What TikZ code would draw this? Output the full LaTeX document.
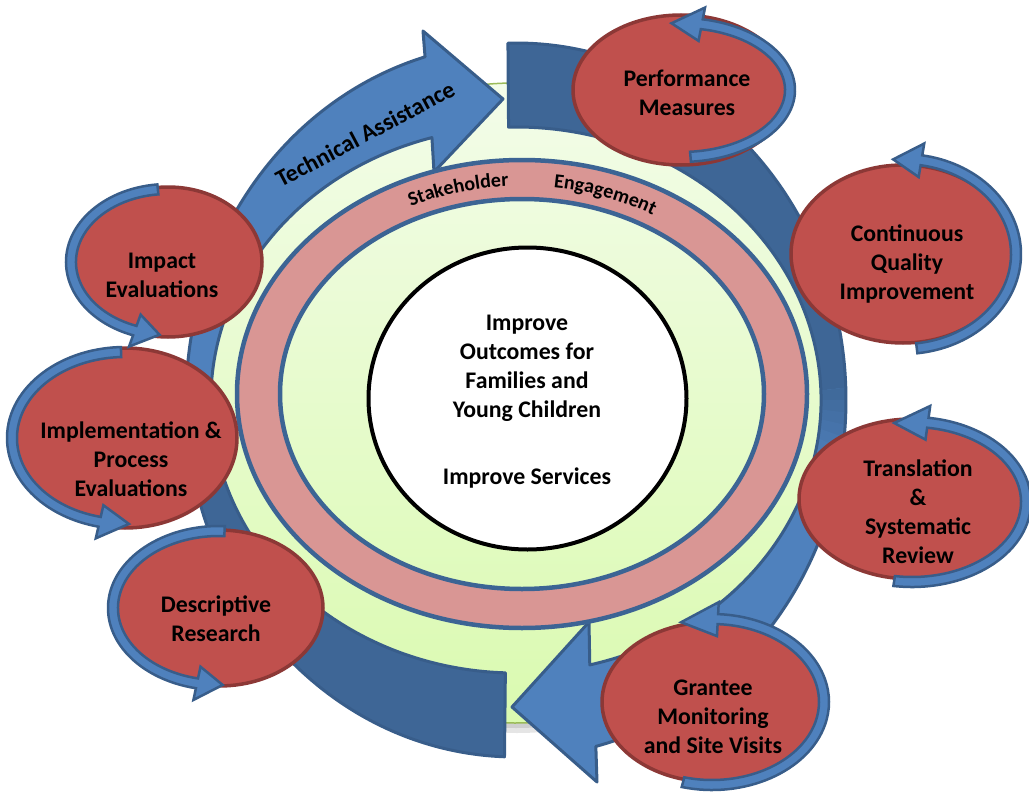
\documentclass[tikz,border=0pt]{standalone}
\usepackage{fontspec}
\setmainfont{Carlito}
\usetikzlibrary{shapes.geometric,decorations.text}
\definecolor{lblue}{HTML}{4F81BD}
\definecolor{dblue}{HTML}{3E6696}
\definecolor{oblue}{HTML}{385D8A}
\definecolor{rfill}{HTML}{C0504D}
\definecolor{rline}{HTML}{8C3836}
\definecolor{pinkr}{HTML}{D99694}
\definecolor{ringline}{HTML}{3C6494}
\definecolor{gtop}{HTML}{F3FCE9}
\definecolor{gbot}{HTML}{DAFAB0}
\definecolor{gline}{HTML}{9BBB59}
\tikzset{
  redell/.style={ellipse, draw=rline, fill=rfill, line width=3.5pt, inner sep=0pt},
  lab/.style={font=\fontsize{23.8}{29}\selectfont\bfseries, align=center, text=black, inner sep=0pt},
  loopsty/.style={fill=lblue, draw=oblue, line width=2.5pt, line join=miter},
  bigline/.style={draw=oblue, line width=3pt, line join=round},
}
\newcommand{\looparr}[7]{%
  \begin{scope}[shift={(#1,#2)}]
    \pgfmathsetmacro\lxo{#3+5}\pgfmathsetmacro\lyo{#4+5}%
    \pgfmathsetmacro\lxi{#3-5}\pgfmathsetmacro\lyi{#4-5}%
    \pgfmathsetmacro\lxb{#3+17}\pgfmathsetmacro\lyb{#4+17}%
    \pgfmathsetmacro\lxc{#3-17}\pgfmathsetmacro\lyc{#4-17}%
    \draw[loopsty] (#5:\lxo+0 and \lyo+0) arc[start angle=#5, end angle=#6, x radius=\lxo, y radius=\lyo]
      -- (#6:\lxb+0 and \lyb+0) -- (#7:#3 and #4) -- (#6:\lxc+0 and \lyc+0) -- (#6:\lxi+0 and \lyi+0)
      arc[start angle=#6, end angle=#5, x radius=\lxi, y radius=\lyi] -- cycle;
  \end{scope}}
\newcommand{\arrowone}{(92:330 and 357) arc[start angle=92, end angle=254, x radius=330, y radius=357]
  -- (-93,-369) -- (-13,-301) -- (-82,-228) -- (254:305 and 273)
  arc[start angle=254, end angle=92, x radius=305, y radius=273] -- cycle}
\newcommand{\arrowtwo}{(268.6:330 and 357) arc[start angle=268.6, end angle=436, x radius=330, y radius=357]
  -- (81,382) -- (-4,307) -- (73,222) -- (436:305 and 273)
  arc[start angle=436, end angle=268.6, x radius=305, y radius=273] -- cycle}
\begin{document}
\begin{tikzpicture}[x=1pt, y=-1pt]
\useasboundingbox (0,0) rectangle (1029,792);
% green disc with shadow
\fill[black, opacity=0.10] (517,413) circle[radius=320];
\fill[black, opacity=0.10] (516,408) circle[radius=320];
\path[top color=gtop, bottom color=gbot, draw=gline, line width=1.5pt] (515,403) circle[radius=320];
% big circular arrows
\begin{scope}[shift={(516,400)}]
  \path[fill=lblue] \arrowone;
  \path[fill=dblue] (92:330 and 357) arc[start angle=92, end angle=176, x radius=330, y radius=357]
     -- (176:305 and 273) arc[start angle=176, end angle=92, x radius=305, y radius=273] -- cycle;
  \draw[bigline] \arrowone;
  \path[fill=lblue] \arrowtwo;
  \path[fill=dblue] (268.6:330 and 357) arc[start angle=268.6, end angle=358, x radius=330, y radius=357]
     -- (358:305 and 273) arc[start angle=358, end angle=268.6, x radius=305, y radius=273] -- cycle;
  \foreach \k in {0,...,6}{
    \pgfmathsetmacro\aa{358+2*\k}
    \pgfmathsetmacro\bb{\aa+2.4}
    \pgfmathtruncatemacro\pp{100-100*(\k+1)/8}
    \path[fill=dblue!\pp!lblue] (\aa:330 and 357) arc[start angle=\aa, end angle=\bb, x radius=330, y radius=357]
      -- (\bb:305 and 273) arc[start angle=\bb, end angle=\aa, x radius=305, y radius=273] -- cycle;
  }
  \draw[bigline] \arrowtwo;
\end{scope}
% pink ring
\path[fill=pinkr, even odd rule] (522,394) ellipse[x radius=285, y radius=234] (522,394) ellipse[x radius=242, y radius=195];
\draw[ringline, line width=4.5pt] (522,394) ellipse[x radius=285, y radius=234];
\draw[ringline, line width=4.5pt] (522,394) ellipse[x radius=242, y radius=195];
\begin{scope}[shift={(522,394)}]
  \path[decorate, decoration={text along path, text align=center,
      text={|\fontsize{20}{20}\selectfont\bfseries|Stakeholder}}]
      (232.4:257 and 208) arc[start angle=232.4, end angle=278.4, x radius=257, y radius=208];
  \path[decorate, decoration={text along path, text align=center,
      text={|\fontsize{20}{20}\selectfont\bfseries|Engagement}}]
      (266.2:257 and 208) arc[start angle=266.2, end angle=312.2, x radius=257, y radius=208];
\end{scope}
% core
\node[ellipse, draw=black, fill=white, line width=4pt, minimum width=318pt, minimum height=302pt, inner sep=0pt] (core) at (527.5,398.5) {};
\node[lab] (tcore) at (527,368) {Improve\\Outcomes for\\Families and\\Young Children};
\node[lab] (tserv) at (527,478) {Improve Services};
\node[lab, rotate=28] (ta) at (365,134) {Technical Assistance};
% red ellipses
\node[redell, minimum width=216pt, minimum height=150pt] (e1) at (681,90) {};
\node[redell, minimum width=224pt, minimum height=178pt] (e2) at (903,254) {};
\node[redell, minimum width=226pt, minimum height=160pt] (e3) at (912,499) {};
\node[redell, minimum width=220pt, minimum height=160pt] (e4) at (712,702) {};
\node[redell, minimum width=188pt, minimum height=150pt] (e5) at (168,262) {};
\node[redell, minimum width=224pt, minimum height=180pt] (e6) at (125,438) {};
\node[redell, minimum width=208pt, minimum height=156pt] (e7) at (219,608) {};
% loop arrows
\looparr{681}{90}{109}{67}{85}{-79}{-95}
\looparr{903}{254}{113}{95}{83}{-80.6}{-95}
\looparr{912}{502}{114}{80}{99}{-82}{-99}
\looparr{712}{702}{112}{83}{105}{-87}{-106}
\looparr{168}{262}{97}{73}{264}{110}{95}
\looparr{125}{438}{113}{86}{268}{103}{88}
\looparr{219}{608}{106}{77}{273}{102}{88}
% labels
\node[lab] (t1) at (687,93) {Performance\\Measures};
\node[lab] (t2) at (907,264) {Continuous\\Quality\\Improvement};
\node[lab] (t3) at (918,512) {Translation\\\&\\Systematic\\Review};
\node[lab] (t4) at (713,717) {Grantee\\Monitoring\\and Site Visits};
\node[lab] (t5) at (162,275) {Impact\\Evaluations};
\node[lab] (t6) at (131,459) {Implementation \&\\Process\\Evaluations};
\node[lab] (t7) at (216,619) {Descriptive\\Research};
\end{tikzpicture}
\end{document}
